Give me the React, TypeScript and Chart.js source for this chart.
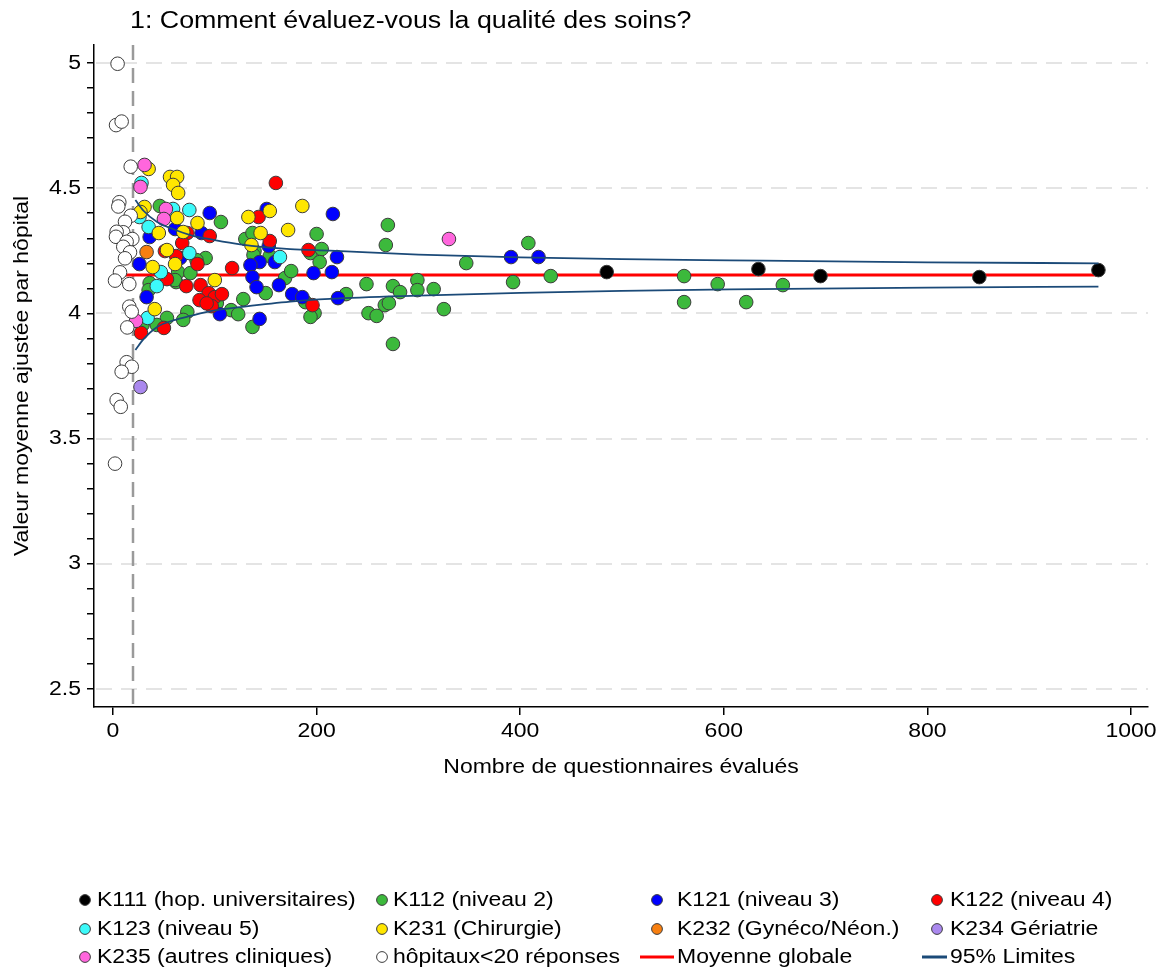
import React, { useEffect, useRef } from 'react';
import { Chart, registerables } from 'chart.js';

Chart.register(...registerables);

// ---- texts ----
const chartTitle = '1: Comment évaluez-vous la qualité des soins?';
const xTitle = 'Nombre de questionnaires évalués';
const yTitle = 'Valeur moyenne ajustée par hôpital';

// ---- axes ----
const xTicks = [0, 200, 400, 600, 800, 1000];
const yMajorTicks = [2.5, 3, 3.5, 4, 4.5, 5];
const yMinorTicks = Array.from({ length: 26 }, (_, i) => Math.round((2.5 + i * 0.1) * 10) / 10);
const xRange = [-18.66, 1016.7];
const yRange = [2.4281, 5.0719];

// ---- reference lines ----
const minResponses = 20;
const overallMean = 4.153;
const meanSpan = [12, 968];
const limitN = [22, 30, 43, 60, 76, 100, 125, 174, 213, 300, 400, 500, 606, 800, 968];
const upperLimit = [4.453, 4.41, 4.366, 4.335, 4.313, 4.293, 4.276, 4.257, 4.251, 4.235, 4.224, 4.217, 4.212, 4.204, 4.2];
const lowerLimit = [3.854, 3.897, 3.945, 3.973, 3.99, 4.012, 4.025, 4.047, 4.058, 4.071, 4.082, 4.09, 4.096, 4.103, 4.107];

// ---- hospitals: [questionnaires, adjusted mean] ----
const k111: number[][] = [[485, 4.165], [634, 4.177], [695, 4.149], [851, 4.145], [968, 4.173]];
const k112: number[][] = [
  [46, 4.429], [106, 4.365], [130, 4.297], [137, 4.321], [200, 4.317], [139, 4.249], [138, 4.233], [154, 4.229],
  [194, 4.241], [205, 4.257], [203, 4.205], [91, 4.221], [82, 4.213], [64, 4.165], [76, 4.161], [62, 4.125],
  [36, 4.121], [61, 4.133], [150, 4.081], [169, 4.141], [175, 4.169], [189, 4.045], [198, 4.001], [194, 3.986],
  [229, 4.077], [128, 4.057], [102, 4.041], [116, 4.013], [123, 3.997], [137, 3.946], [53, 3.982], [43, 3.954],
  [73, 4.006], [69, 3.974], [29, 3.954], [35, 4.093], [270, 4.353], [268, 4.273], [347, 4.201], [408, 4.281],
  [393, 4.125], [430, 4.149], [561, 4.149], [561, 4.045], [594, 4.117], [622, 4.045], [658, 4.113], [249, 4.117],
  [275, 4.109], [282, 4.085], [299, 4.133], [299, 4.093], [315, 4.097], [251, 4.001], [259, 3.99], [267, 4.033],
  [271, 4.041], [325, 4.017], [275, 3.878],
];
const k121: number[][] = [
  [95, 4.401], [151, 4.417], [216, 4.397], [36, 4.305], [61, 4.337], [87, 4.321], [153, 4.269], [66, 4.221],
  [26, 4.197], [144, 4.205], [135, 4.193], [159, 4.205], [220, 4.225], [137, 4.145], [141, 4.105], [163, 4.113],
  [197, 4.161], [215, 4.165], [176, 4.077], [186, 4.065], [221, 4.061], [33, 4.065], [105, 3.997], [144, 3.978],
  [391, 4.225], [418, 4.225],
];
const k122: number[][] = [
  [160, 4.521], [143, 4.385], [73, 4.321], [95, 4.309], [154, 4.289], [68, 4.281], [51, 4.249], [62, 4.229],
  [83, 4.197], [117, 4.181], [192, 4.253], [53, 4.137], [72, 4.109], [86, 4.113], [196, 4.033], [94, 4.081],
  [100, 4.065], [107, 4.077], [85, 4.053], [97, 4.029], [92, 4.04], [27.5, 3.922], [50, 3.942],
];
const k123: number[][] = [
  [28, 4.521], [75, 4.413], [59, 4.417], [26, 4.385], [35, 4.345], [75, 4.241], [164, 4.225], [47, 4.165],
  [43, 4.109], [34, 3.982],
];
const k231: number[][] = [
  [35, 4.577], [56, 4.545], [63, 4.545], [59, 4.513], [64, 4.481], [186, 4.429], [133, 4.385], [154, 4.409],
  [83, 4.361], [172, 4.333], [31, 4.425], [27, 4.405], [63, 4.381], [45, 4.321], [69, 4.325], [145, 4.321],
  [136, 4.273], [53, 4.253], [61, 4.197], [39, 4.185], [100, 4.133], [41, 4.017],
];
const k232: number[][] = [[33, 4.245]];
const k234: number[][] = [[27, 3.706]];
const k235: number[][] = [[31, 4.593], [27, 4.505], [52, 4.417], [50, 4.377], [22.6, 3.97], [330, 4.297]];
const under20: number[][] = [
  [4.5, 4.997], [3, 4.752], [8.5, 4.766], [17.4, 4.586], [6.2, 4.444], [5.2, 4.427], [17.4, 4.39], [11.8, 4.366],
  [10.1, 4.324], [3.6, 4.326], [2.9, 4.306], [19, 4.297], [13.4, 4.286], [10.1, 4.266], [16.7, 4.244], [11.8, 4.22],
  [6.9, 4.164], [2, 4.131], [16, 4.117], [16, 4.027], [18.4, 4.007], [14, 3.944], [13.4, 3.805], [18.4, 3.787],
  [8.5, 3.767], [3.6, 3.654], [7.6, 3.627], [2, 3.4],
];

// ---- styling ----
const FONT = "'Liberation Sans', Arial, sans-serif";
const STRETCH = 1.15;
const TEXT_SIZE = 20;
const TITLE_SIZE = 23.3;
const MARKER_EDGE = '#3c3c3c';
const MEAN_COLOR = '#ff0000';
const LIMIT_COLOR = '#1b4a78';

const groups = [
  { label: 'K111 (hop. universitaires)', color: '#000000', pts: k111 },
  { label: 'K112 (niveau 2)', color: '#3cb93c', pts: k112 },
  { label: 'K121 (niveau 3)', color: '#0000ff', pts: k121 },
  { label: 'K122 (niveau 4)', color: '#ff0000', pts: k122 },
  { label: 'K123 (niveau 5)', color: '#3cfafa', pts: k123 },
  { label: 'K231 (Chirurgie)', color: '#ffe600', pts: k231 },
  { label: 'K232 (Gynéco/Néon.)', color: '#f77f10', pts: k232 },
  { label: 'K234 Gériatrie', color: '#aa88ee', pts: k234 },
  { label: 'K235 (autres cliniques)', color: '#ff66dd', pts: k235 },
  { label: 'hôpitaux<20 réponses', color: '#ffffff', pts: under20 },
];

const legendEntries = [
  ...groups.map((g) => ({ label: g.label, color: g.color, kind: 'dot' })),
  { label: 'Moyenne globale', color: MEAN_COLOR, kind: 'line' },
  { label: '95% Limites', color: LIMIT_COLOR, kind: 'line' },
];

const legendTextX = [97, 393, 677, 950];
const legendKeyX = [85, 382, 657, 937];
const legendRowY = [900, 929, 957];

function drawStretched(ctx: CanvasRenderingContext2D, text: string, x: number, y: number, align: CanvasTextAlign, size: number) {
  ctx.save();
  ctx.translate(x, y);
  ctx.scale(STRETCH, 1);
  ctx.font = `${size}px ${FONT}`;
  ctx.fillStyle = '#000';
  ctx.textAlign = align;
  ctx.textBaseline = 'middle';
  ctx.fillText(text, 0, 0);
  ctx.restore();
}

const decorations = {
  id: 'decorations',
  beforeDatasetsDraw(chart: any) {
    const { ctx, chartArea, scales } = chart;
    const { x, y } = scales;
    ctx.save();
    ctx.strokeStyle = '#dcdcdc';
    ctx.lineWidth = 1.5;
    ctx.setLineDash([16, 9]);
    for (const v of yMajorTicks) {
      const py = Math.round(y.getPixelForValue(v));
      ctx.beginPath();
      ctx.moveTo(chartArea.left + 2, py);
      ctx.lineTo(chartArea.right, py);
      ctx.stroke();
    }
    ctx.strokeStyle = '#9a9a9a';
    ctx.lineWidth = 2.5;
    ctx.setLineDash([15, 8]);
    const px = Math.round(x.getPixelForValue(minResponses));
    ctx.beginPath();
    ctx.moveTo(px, chartArea.top);
    ctx.lineTo(px, chartArea.bottom);
    ctx.stroke();
    ctx.restore();
  },
  afterDraw(chart: any) {
    const { ctx, chartArea, scales } = chart;
    const { x, y } = scales;

    // title
    drawStretched(ctx, chartTitle, 130, 22, 'left', TITLE_SIZE);

    // tick labels
    for (const v of xTicks) drawStretched(ctx, String(v), x.getPixelForValue(v), 731, 'center', TEXT_SIZE);
    for (const v of yMajorTicks) drawStretched(ctx, String(v), 81, y.getPixelForValue(v), 'right', TEXT_SIZE);

    // axis titles
    drawStretched(ctx, xTitle, (chartArea.left + chartArea.right) / 2, 767, 'center', TEXT_SIZE);
    ctx.save();
    ctx.translate(22, (chartArea.top + chartArea.bottom) / 2);
    ctx.rotate(-Math.PI / 2);
    drawStretched(ctx, yTitle, 0, 0, 'center', TEXT_SIZE);
    ctx.restore();

    // legend
    legendEntries.forEach((e, i) => {
      const col = i % 4;
      const row = Math.floor(i / 4);
      const ly = legendRowY[row];
      ctx.save();
      if (e.kind === 'dot') {
        ctx.beginPath();
        ctx.arc(legendKeyX[col], ly, 5.4, 0, Math.PI * 2);
        ctx.fillStyle = e.color;
        ctx.fill();
        ctx.lineWidth = 1;
        ctx.strokeStyle = MARKER_EDGE;
        ctx.stroke();
      } else {
        ctx.beginPath();
        const x0 = col === 2 ? 640 : 922;
        ctx.moveTo(x0, ly);
        ctx.lineTo(legendTextX[col] - 3, ly);
        ctx.lineWidth = 3;
        ctx.strokeStyle = e.color;
        ctx.stroke();
      }
      ctx.restore();
      drawStretched(ctx, e.label, legendTextX[col], ly, 'left', TEXT_SIZE);
    });
  },
};

export default function App() {
  const canvasRef = useRef<HTMLCanvasElement | null>(null);

  useEffect(() => {
    document.body.style.margin = '0';
    const canvas = canvasRef.current;
    if (!canvas) return;

    const scatterSets = groups.map((g, i) => ({
      type: 'scatter' as const,
      label: g.label,
      data: g.pts.map(([n, v]) => ({ x: n, y: v })),
      backgroundColor: g.color,
      borderColor: MARKER_EDGE,
      borderWidth: 1,
      pointRadius: 6.8,
      pointHoverRadius: 6.8,
      order: 20 - i,
    }));

    const lineStyle = {
      type: 'line' as const,
      pointRadius: 0,
      fill: false,
      showLine: true,
    };

    const chart = new Chart(canvas, {
      type: 'scatter',
      data: {
        datasets: [
          ...scatterSets,
          {
            ...lineStyle,
            label: 'Moyenne globale',
            data: meanSpan.map((n) => ({ x: n, y: overallMean })),
            borderColor: MEAN_COLOR,
            borderWidth: 3,
            order: 40,
          },
          {
            ...lineStyle,
            label: '95% Limites',
            data: limitN.map((n, i) => ({ x: n, y: upperLimit[i] })),
            borderColor: LIMIT_COLOR,
            borderWidth: 1.8,
            cubicInterpolationMode: 'monotone',
            order: 1,
          },
          {
            ...lineStyle,
            label: '95% Limites (inf.)',
            data: limitN.map((n, i) => ({ x: n, y: lowerLimit[i] })),
            borderColor: LIMIT_COLOR,
            borderWidth: 1.8,
            cubicInterpolationMode: 'monotone',
            order: 1,
          },
        ] as any,
      },
      options: {
        animation: false,
        responsive: false,
        layout: { padding: { left: 0, top: 45, right: 15, bottom: 204 } },
        plugins: {
          legend: { display: false },
          tooltip: { enabled: false },
          title: { display: false },
        },
        scales: {
          x: {
            type: 'linear',
            min: xRange[0],
            max: xRange[1],
            afterBuildTicks: (s: any) => {
              s.ticks = xTicks.map((v) => ({ value: v }));
            },
            afterFit: (s: any) => {
              s.height = 60;
            },
            ticks: { display: false },
            grid: { display: true, drawOnChartArea: false, drawTicks: true, tickLength: 8, color: '#000', lineWidth: 1.5 },
            border: { display: true, color: '#000', width: 1.5 },
          },
          y: {
            type: 'linear',
            min: yRange[0],
            max: yRange[1],
            afterBuildTicks: (s: any) => {
              s.ticks = yMinorTicks.map((v) => ({ value: v }));
            },
            afterFit: (s: any) => {
              s.width = 94;
            },
            ticks: { display: false },
            grid: { display: true, drawOnChartArea: false, drawTicks: true, tickLength: 7, color: '#000', lineWidth: 1.5 },
            border: { display: true, color: '#000', width: 1.5 },
          },
        },
      } as any,
      plugins: [decorations],
    });

    return () => chart.destroy();
  }, []);

  return <canvas ref={canvasRef} width={1163} height={971} style={{ display: 'block' }} />;
}
